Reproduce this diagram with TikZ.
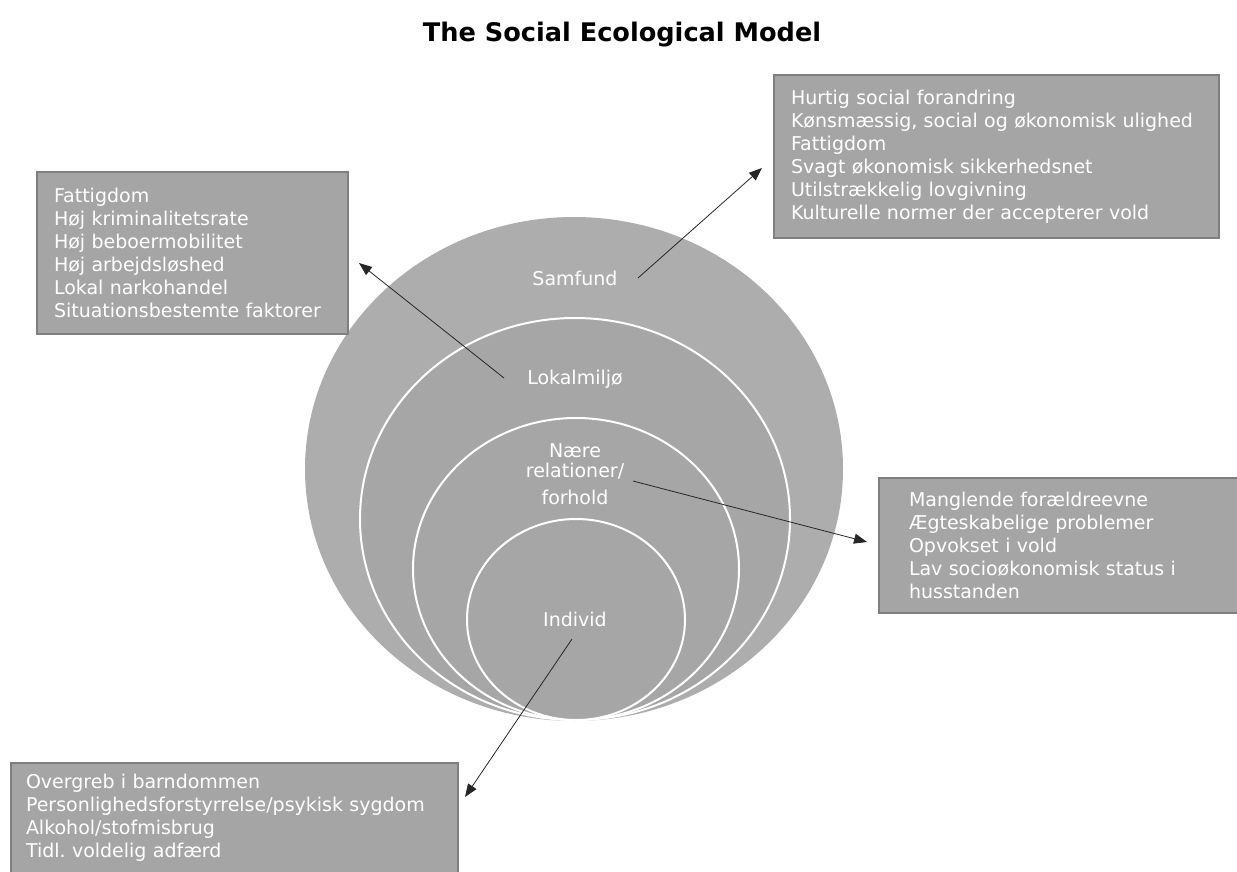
\documentclass[tikz,border=0pt]{standalone}
\usepackage{fontspec}
\setmainfont{DejaVu Sans}
\usetikzlibrary{arrows.meta,shapes.geometric}

\definecolor{ringouter}{HTML}{ADADAD}
\definecolor{ringinner}{HTML}{A6A6A6}
\definecolor{boxfill}{HTML}{A5A5A5}
\definecolor{boxline}{HTML}{7F7F7F}

\tikzset{
  ring/.style={ellipse,inner sep=0pt,fill=ringinner,draw=white,line width=2pt},
  level/.style={text=white,font={\fontsize{19}{23}\selectfont},inner sep=0pt},
  factors/.style={anchor=north west,rectangle,fill=boxfill,draw=boxline,line width=2pt,
                  text=white,align=left,inner xsep=17pt,inner ysep=0pt,
                  font={\fontsize{19}{23}\selectfont}},
  pointer/.style={-{Triangle[length=13pt,width=10pt]},line width=0.8pt,draw=black!85}
}

\begin{document}
\begin{tikzpicture}[x=1pt,y=-1pt]
    \useasboundingbox (0,0) rectangle (1237,872);

    \node (title) at (622,42) [anchor=base,font={\fontsize{25.6}{30}\selectfont\bfseries}] {The Social Ecological Model};

    % rings
    \node (samfund)   at (574,469)   [ring,fill=ringouter,draw=none,minimum width=538,minimum height=504] {};
    \node (lokal)     at (575,519)   [ring,minimum width=430,minimum height=402] {};
    \node (naere)     at (576,569)   [ring,minimum width=326,minimum height=302] {};
    \node (individ)   at (576,619.5) [ring,minimum width=218,minimum height=201] {};

    \node (l-samfund) at (575,285) [level,anchor=base] {Samfund};
    \node (l-lokal)   at (575,384) [level,anchor=base] {Lokalmiljø};
    \node (l-naere)   at (575,474) [level,align=center] {Nære\\[-3pt]relationer/\\[4pt]forhold};
    \node (l-individ) at (575,626) [level,anchor=base] {Individ};

    % factor boxes
    \node (b-samfund) at (773,74)  [factors,minimum width=445,minimum height=163,text width=411] {Hurtig social forandring\\Kønsmæssig, social og økonomisk ulighed\\Fattigdom\\Svagt økonomisk sikkerhedsnet\\Utilstrækkelig lovgivning\\Kulturelle normer der accepterer vold};
    \node (b-lokal)   at (36,171)  [factors,minimum width=311,minimum height=162,text width=277] {Fattigdom\\Høj kriminalitetsrate\\Høj beboermobilitet\\Høj arbejdsløshed\\Lokal narkohandel\\Situationsbestemte faktorer};
    \node (b-naere)   at (878,477) [factors,minimum width=400,minimum height=135,text width=340] {Manglende forældreevne\\Ægteskabelige problemer\\Opvokset i vold\\Lav socioøkonomisk status i\\husstanden};
    \node (b-individ) at (10,762)  [factors,minimum width=447,inner ysep=11pt,inner xsep=15pt,text width=417] {Overgreb i barndommen\\Personlighedsforstyrrelse/psykisk sygdom\\Alkohol/stofmisbrug\\Tidl.\ voldelig adfærd\rule[-14pt]{0pt}{14pt}};

    \coordinate (s-samfund) at (638,278);
    \coordinate (e-samfund) at (762,168);
    \coordinate (s-lokal)   at (504,378);
    \coordinate (e-lokal)   at (359,263);
    \coordinate (s-naere)   at (633,481);
    \coordinate (e-naere)   at (867,542);
    \coordinate (s-individ) at (572,639);
    \coordinate (e-individ) at (465,797);

    \draw[pointer] (s-samfund) to (e-samfund);
    \draw[pointer] (s-lokal)   to (e-lokal);
    \draw[pointer] (s-naere)   to (e-naere);
    \draw[pointer] (s-individ) to (e-individ);

\end{tikzpicture}
\end{document}
